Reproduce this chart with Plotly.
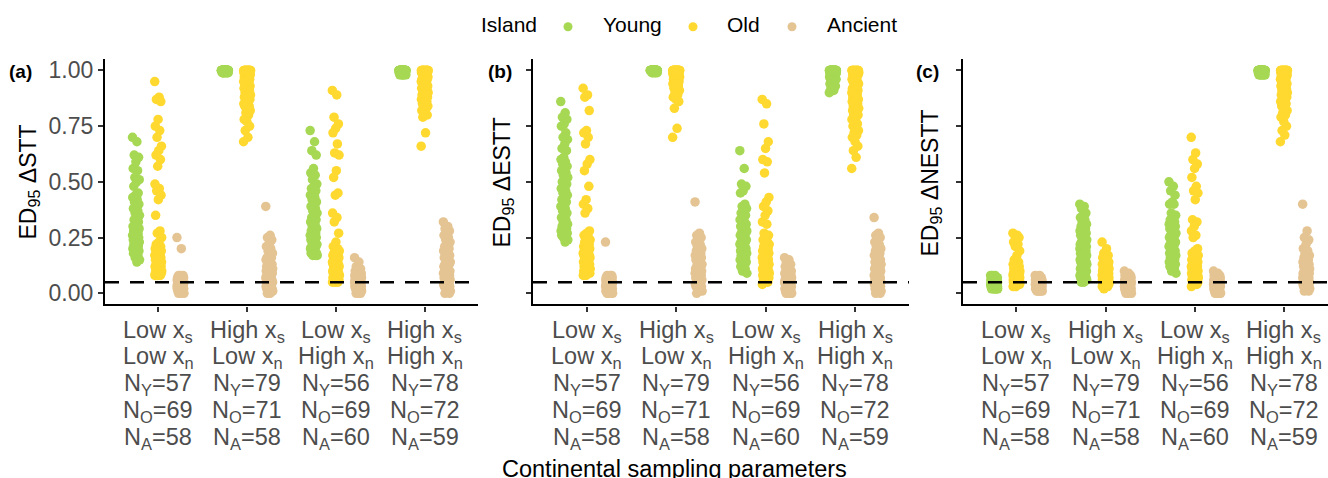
import plotly.graph_objects as go

W, H = 1328, 478

# ---- categories and labels -------------------------------------------------
islands = ["Young", "Old", "Ancient"]
island_colors = {"Young": "#A6D854", "Old": "#FFD92F", "Ancient": "#E5C494"}
xs_level = ["Low", "High", "Low", "High"]
xn_level = ["Low", "Low", "High", "High"]
panel_tags = ["(a)", "(b)", "(c)"]
metric_names = ["ΔSTT", "ΔESTT", "ΔNESTT"]
threshold = 0.05
y_ticks = [0.0, 0.25, 0.50, 0.75, 1.00]

# ---- ED95 values, one list per sampling setting ------------------------------
# panel (a): delta STT
stt_young = [
    [.70, .68, .62, .61, .59, .56, .55, .52, .51, .50, .48, .45, .44, .43, .42, .41, .40, .39, .38, .37,
     .36, .35, .34, .33, .32, .31, .30, .30, .29, .29, .28, .28, .27, .27, .26, .26, .26, .25, .25, .24,
     .24, .23, .23, .22, .22, .21, .21, .20, .20, .19, .19, .18, .18, .17, .16, .15, .14],
    [1, 1, 1, 1, 1, 1, 1, 1, 1, 1, 1, 1, 1, 1, 1, 1, 1, 1, 1, 1, 1, 1, 1, 1, 1, 1, 1, 1, 1, 1,
     1, 1, 1, 1, 1, 1, 1, 1, 1, 1, 1, 1, 1, 1, 1, 1, 1, 1, 1, 1, 1, 1, 1, 1, 1, 1, 1, 1, 1, 1,
     1, 1, 1, 1, 1, 1, 1, 1, 1, 1, .99, .99, .99, .99, .99, .99, .99, .99, .99],
    [.73, .68, .64, .62, .56, .54, .53, .51, .49, .48, .47, .46, .45, .44, .43, .42, .41, .40, .39, .38,
     .37, .36, .35, .34, .33, .33, .32, .31, .30, .29, .29, .28, .27, .27, .26, .26, .25, .25, .24, .24,
     .23, .23, .22, .22, .21, .21, .20, .20, .19, .19, .18, .18, .18, .17, .17, .17],
    [1, 1, 1, 1, 1, 1, 1, 1, 1, 1, 1, 1, 1, 1, 1, 1, 1, 1, 1, 1, 1, 1, 1, 1, 1, 1, 1, 1, 1, 1,
     1, 1, 1, 1, 1, 1, 1, 1, 1, 1, 1, 1, 1, 1, 1, 1, 1, 1, 1, 1, 1, 1, 1, 1, 1, 1, 1, 1, 1, 1,
     .99, .99, .99, .99, .99, .99, .99, .99, .99, .99, .99, .99, .98, .98, .98, .98, .98, .98],
]
stt_old = [
    [.95, .88, .87, .86, .78, .75, .73, .70, .66, .64, .62, .60, .57, .49, .47, .46, .44, .42, .35, .28,
     .27, .25, .23, .22, .21, .21, .20, .20, .19, .19, .18, .18, .18, .17, .17, .16, .16, .16, .15, .15,
     .15, .14, .14, .14, .13, .13, .13, .12, .12, .12, .12, .11, .11, .11, .11, .10, .10, .10, .10, .10,
     .09, .09, .09, .09, .09, .08, .08, .08, .08],
    [.68, .70, .73, .75, .77, .78, .80, .81, .82, .83, .84, .84, .85, .85, .86, .86, .87, .87, .88, .88,
     .89, .89, .90, .90, .91, .91, .92, .92, .93, .93, .94, .94, .95, .95, .95, .96, .96, .96, .97, .97,
     .97, .98, .98, .98, .98, .99, .99, .99, .99, .99, 1, 1, 1, 1, 1, 1, 1, 1, 1, 1,
     1, 1, 1, 1, 1, 1, 1, 1, 1, 1, 1],
    [.91, .89, .79, .76, .74, .72, .67, .63, .62, .55, .52, .45, .44, .36, .34, .32, .27, .23, .21, .20,
     .19, .19, .18, .18, .18, .17, .17, .17, .16, .16, .16, .15, .15, .15, .14, .14, .14, .13, .13, .13,
     .12, .12, .12, .11, .11, .11, .10, .10, .10, .10, .09, .09, .09, .09, .08, .08, .08, .08, .07, .07,
     .07, .07, .06, .06, .06, .06, .05, .05, .05],
    [.66, .72, .79, .80, .81, .82, .83, .84, .84, .85, .85, .86, .86, .87, .87, .88, .88, .89, .89, .90,
     .90, .90, .91, .91, .91, .92, .92, .92, .93, .93, .93, .94, .94, .94, .95, .95, .95, .96, .96, .96,
     .97, .97, .97, .98, .98, .98, .98, .99, .99, .99, .99, .99, 1, 1, 1, 1, 1, 1, 1, 1,
     1, 1, 1, 1, 1, 1, 1, 1, 1, 1, 1, 1],
]
stt_ancient = [
    [.25, .20, .08, .08, .08, .07, .07, .07, .07, .07, .07, .06, .06, .06, .06, .06, .06, .06, .05, .05,
     .05, .05, .05, .05, .05, .05, .04, .04, .04, .04, .04, .04, .04, .04, .03, .03, .03, .03, .03, .03,
     .03, .03, .02, .02, .02, .02, .02, .02, .02, .01, .01, .01, .01, .01, .01, .00, .00, .00],
    [.39, .26, .25, .24, .22, .21, .20, .19, .18, .17, .16, .16, .15, .15, .14, .14, .13, .13, .12, .12,
     .12, .11, .11, .11, .10, .10, .10, .09, .09, .09, .08, .08, .08, .07, .07, .07, .07, .06, .06, .06,
     .05, .05, .05, .05, .04, .04, .04, .03, .03, .03, .02, .02, .02, .01, .01, .01, .00, .00],
    [.16, .14, .12, .11, .11, .10, .10, .10, .09, .09, .09, .09, .08, .08, .08, .08, .08, .07, .07, .07,
     .07, .07, .07, .06, .06, .06, .06, .06, .06, .05, .05, .05, .05, .05, .05, .05, .04, .04, .04, .04,
     .04, .04, .03, .03, .03, .03, .03, .03, .02, .02, .02, .02, .02, .01, .01, .01, .01, .00, .00, .00],
    [.32, .30, .29, .28, .27, .26, .25, .24, .23, .22, .21, .20, .20, .19, .18, .18, .17, .16, .16, .15,
     .15, .14, .14, .13, .13, .12, .12, .11, .11, .10, .10, .10, .09, .09, .09, .08, .08, .08, .07, .07,
     .07, .06, .06, .06, .05, .05, .05, .04, .04, .04, .03, .03, .03, .02, .02, .01, .01, .00, .00],
]

# panel (b): delta ESTT
estt_young = [
    [.86, .81, .79, .78, .76, .75, .72, .70, .69, .67, .65, .64, .61, .60, .59, .58, .57, .56, .55, .54,
     .53, .52, .51, .50, .49, .48, .47, .46, .45, .44, .43, .42, .41, .40, .39, .38, .37, .36, .35, .34,
     .33, .32, .31, .30, .30, .29, .29, .28, .28, .27, .27, .26, .26, .25, .25, .24, .23],
    [1, 1, 1, 1, 1, 1, 1, 1, 1, 1, 1, 1, 1, 1, 1, 1, 1, 1, 1, 1, 1, 1, 1, 1, 1, 1, 1, 1, 1, 1,
     1, 1, 1, 1, 1, 1, 1, 1, 1, 1, 1, 1, 1, 1, 1, 1, 1, 1, 1, 1, 1, 1, 1, 1, 1, 1, 1, 1, 1, 1,
     1, 1, 1, 1, 1, 1, 1, 1, 1, 1, 1, 1, 1, 1, .99, .99, .99, .99, .99],
    [.64, .56, .49, .48, .46, .45, .40, .39, .38, .37, .36, .35, .34, .33, .32, .31, .31, .30, .30, .29,
     .29, .28, .28, .27, .27, .26, .26, .25, .25, .24, .24, .23, .23, .22, .22, .21, .21, .20, .20, .19,
     .19, .18, .18, .17, .17, .16, .16, .15, .15, .14, .14, .13, .12, .11, .10, .09],
    [.90, .91, .92, .93, .94, .94, .95, .95, .96, .96, .96, .97, .97, .97, .97, .98, .98, .98, .98, .98,
     .98, .99, .99, .99, .99, .99, .99, .99, .99, .99, 1, 1, 1, 1, 1, 1, 1, 1, 1, 1,
     1, 1, 1, 1, 1, 1, 1, 1, 1, 1, 1, 1, 1, 1, 1, 1, 1, 1, 1, 1,
     1, 1, 1, 1, 1, 1, 1, 1, 1, 1, 1, 1, 1, 1, 1, 1, 1, 1],
]
estt_old = [
    [.92, .89, .88, .82, .73, .72, .70, .67, .60, .58, .55, .48, .42, .40, .38, .36, .28, .27, .26, .25,
     .24, .24, .23, .23, .22, .22, .21, .21, .20, .20, .20, .19, .19, .19, .18, .18, .18, .17, .17, .17,
     .16, .16, .16, .15, .15, .15, .14, .14, .14, .13, .13, .13, .12, .12, .12, .11, .11, .11, .11, .10,
     .10, .10, .10, .09, .09, .09, .09, .08, .08],
    [.70, .74, .83, .86, .87, .88, .89, .90, .91, .92, .92, .93, .93, .94, .94, .95, .95, .95, .96, .96,
     .96, .97, .97, .97, .97, .98, .98, .98, .98, .98, .99, .99, .99, .99, .99, .99, 1, 1, 1, 1,
     1, 1, 1, 1, 1, 1, 1, 1, 1, 1, 1, 1, 1, 1, 1, 1, 1, 1, 1, 1,
     1, 1, 1, 1, 1, 1, 1, 1, 1, 1, 1],
    [.87, .85, .76, .68, .65, .60, .59, .54, .43, .41, .39, .37, .35, .32, .31, .27, .26, .25, .24, .23,
     .22, .22, .21, .21, .20, .20, .19, .19, .18, .18, .17, .17, .16, .16, .16, .15, .15, .15, .14, .14,
     .14, .13, .13, .13, .12, .12, .12, .11, .11, .11, .10, .10, .10, .10, .09, .09, .09, .09, .08, .08,
     .08, .07, .07, .07, .06, .06, .05, .05, .04],
    [.56, .61, .64, .66, .68, .70, .71, .72, .73, .74, .75, .76, .77, .78, .79, .80, .80, .81, .82, .82,
     .83, .83, .84, .84, .85, .85, .86, .86, .87, .87, .88, .88, .89, .89, .90, .90, .91, .91, .92, .92,
     .93, .93, .94, .94, .95, .95, .96, .96, .97, .97, .98, .98, .98, .99, .99, .99, .99, 1, 1, 1,
     1, 1, 1, 1, 1, 1, 1, 1, 1, 1, 1, 1],
]
estt_ancient = [
    [.23, .08, .08, .08, .07, .07, .07, .07, .07, .06, .06, .06, .06, .06, .06, .06, .05, .05, .05, .05,
     .05, .05, .05, .05, .04, .04, .04, .04, .04, .04, .04, .04, .03, .03, .03, .03, .03, .03, .03, .03,
     .02, .02, .02, .02, .02, .02, .02, .01, .01, .01, .01, .01, .01, .00, .00, .00, .00, .00],
    [.41, .27, .26, .25, .24, .23, .22, .21, .20, .20, .19, .18, .18, .17, .17, .16, .16, .15, .15, .14,
     .14, .13, .13, .12, .12, .12, .11, .11, .11, .10, .10, .10, .09, .09, .09, .08, .08, .08, .07, .07,
     .07, .06, .06, .06, .05, .05, .05, .04, .04, .04, .03, .03, .03, .02, .02, .01, .01, .00],
    [.16, .15, .14, .13, .12, .12, .11, .11, .10, .10, .10, .09, .09, .09, .09, .08, .08, .08, .08, .08,
     .07, .07, .07, .07, .07, .06, .06, .06, .06, .06, .05, .05, .05, .05, .05, .04, .04, .04, .04, .04,
     .03, .03, .03, .03, .03, .02, .02, .02, .02, .02, .01, .01, .01, .01, .00, .00, .00, .00, .00, .00],
    [.34, .27, .26, .25, .24, .23, .22, .21, .20, .19, .19, .18, .17, .17, .16, .16, .15, .15, .14, .14,
     .13, .13, .12, .12, .11, .11, .11, .10, .10, .10, .09, .09, .09, .08, .08, .08, .07, .07, .07, .06,
     .06, .06, .05, .05, .05, .04, .04, .04, .03, .03, .03, .02, .02, .02, .01, .01, .01, .00, .00],
]

# panel (c): delta NESTT
nestt_young = [
    [.08, .08, .08, .07, .07, .07, .07, .07, .07, .07, .06, .06, .06, .06, .06, .06, .06, .06, .06, .06,
     .05, .05, .05, .05, .05, .05, .05, .05, .05, .05, .05, .04, .04, .04, .04, .04, .04, .04, .04, .04,
     .04, .03, .03, .03, .03, .03, .03, .03, .03, .03, .02, .02, .02, .02, .02, .02, .02],
    [.40, .39, .38, .36, .35, .34, .33, .32, .31, .30, .30, .29, .29, .28, .28, .27, .27, .26, .26, .25,
     .25, .24, .24, .23, .23, .23, .22, .22, .22, .21, .21, .21, .20, .20, .20, .19, .19, .19, .18, .18,
     .18, .17, .17, .17, .16, .16, .16, .15, .15, .15, .14, .14, .14, .13, .13, .13, .12, .12, .12, .11,
     .11, .11, .10, .10, .10, .09, .09, .09, .08, .08, .08, .07, .07, .07, .06, .06, .06, .05, .05],
    [.50, .48, .46, .44, .41, .40, .40, .36, .35, .34, .33, .32, .32, .31, .31, .30, .30, .29, .29, .28,
     .28, .27, .27, .26, .26, .25, .25, .24, .24, .23, .23, .22, .22, .21, .21, .20, .20, .19, .19, .18,
     .18, .17, .17, .16, .16, .15, .15, .14, .14, .13, .13, .12, .12, .11, .10, .09],
    [1, 1, 1, 1, 1, 1, 1, 1, 1, 1, 1, 1, 1, 1, 1, 1, 1, 1, 1, 1, 1, 1, 1, 1, 1, 1, 1, 1, 1, 1,
     1, 1, 1, 1, 1, 1, 1, 1, 1, 1, 1, 1, 1, 1, 1, 1, 1, 1, 1, 1, 1, 1, 1, 1, 1, 1, 1, 1, 1, 1,
     .99, .99, .99, .99, .99, .99, .99, .99, .99, .99, .98, .98, .98, .98, .98, .98, .98, .98],
]
nestt_old = [
    [.27, .26, .26, .25, .24, .23, .22, .21, .19, .17, .15, .14, .13, .13, .12, .12, .12, .11, .11, .11,
     .11, .10, .10, .10, .10, .10, .09, .09, .09, .09, .09, .09, .08, .08, .08, .08, .08, .08, .08, .07,
     .07, .07, .07, .07, .07, .07, .06, .06, .06, .06, .06, .06, .06, .06, .05, .05, .05, .05, .05, .05,
     .05, .05, .04, .04, .04, .04, .04, .03, .03],
    [.23, .20, .18, .17, .16, .16, .15, .15, .14, .14, .14, .13, .13, .13, .12, .12, .12, .12, .11, .11,
     .11, .11, .10, .10, .10, .10, .10, .09, .09, .09, .09, .09, .09, .08, .08, .08, .08, .08, .08, .07,
     .07, .07, .07, .07, .07, .07, .06, .06, .06, .06, .06, .06, .06, .05, .05, .05, .05, .05, .05, .04,
     .04, .04, .04, .04, .04, .03, .03, .03, .03, .03, .02],
    [.70, .63, .60, .58, .56, .52, .48, .46, .45, .42, .33, .32, .30, .28, .26, .25, .20, .19, .18, .18,
     .17, .17, .16, .16, .16, .15, .15, .15, .14, .14, .14, .13, .13, .13, .12, .12, .12, .12, .11, .11,
     .11, .11, .10, .10, .10, .10, .09, .09, .09, .09, .08, .08, .08, .08, .07, .07, .07, .07, .06, .06,
     .06, .06, .05, .05, .05, .04, .04, .04, .03],
    [.68, .71, .73, .75, .77, .79, .80, .81, .82, .83, .84, .85, .86, .86, .87, .87, .88, .88, .89, .89,
     .90, .90, .91, .91, .92, .92, .93, .93, .94, .94, .94, .95, .95, .95, .96, .96, .96, .97, .97, .97,
     .97, .98, .98, .98, .98, .99, .99, .99, .99, .99, 1, 1, 1, 1, 1, 1, 1, 1, 1, 1,
     1, 1, 1, 1, 1, 1, 1, 1, 1, 1, 1, 1],
]
nestt_ancient = [
    [.08, .08, .07, .07, .07, .07, .07, .06, .06, .06, .06, .06, .06, .06, .06, .05, .05, .05, .05, .05,
     .05, .05, .05, .05, .05, .05, .04, .04, .04, .04, .04, .04, .04, .04, .04, .04, .04, .03, .03, .03,
     .03, .03, .03, .03, .03, .03, .02, .02, .02, .02, .02, .02, .02, .01, .01, .01, .01, .01],
    [.10, .09, .09, .08, .08, .08, .07, .07, .07, .07, .06, .06, .06, .06, .06, .06, .05, .05, .05, .05,
     .05, .05, .05, .05, .04, .04, .04, .04, .04, .04, .04, .04, .04, .03, .03, .03, .03, .03, .03, .03,
     .03, .02, .02, .02, .02, .02, .02, .02, .01, .01, .01, .01, .01, .01, .00, .00, .00, .00],
    [.10, .09, .09, .08, .08, .08, .08, .07, .07, .07, .07, .07, .06, .06, .06, .06, .06, .06, .06, .05,
     .05, .05, .05, .05, .05, .05, .04, .04, .04, .04, .04, .04, .04, .04, .04, .03, .03, .03, .03, .03,
     .03, .03, .03, .02, .02, .02, .02, .02, .02, .02, .01, .01, .01, .01, .01, .00, .00, .00, .00, .00],
    [.40, .28, .25, .24, .22, .20, .19, .18, .17, .16, .16, .15, .15, .14, .14, .13, .13, .12, .12, .12,
     .11, .11, .11, .10, .10, .10, .09, .09, .09, .09, .08, .08, .08, .08, .07, .07, .07, .07, .06, .06,
     .06, .06, .05, .05, .05, .05, .04, .04, .04, .04, .03, .03, .03, .03, .02, .02, .02, .01, .01],
]

panels = [
    {"Young": stt_young, "Old": stt_old, "Ancient": stt_ancient},
    {"Young": estt_young, "Old": estt_old, "Ancient": estt_ancient},
    {"Young": nestt_young, "Old": nestt_old, "Ancient": nestt_ancient},
]

# ---- layout geometry (pixels) ---------------------------------------------
FONT = "Liberation Sans, Arial, Helvetica, sans-serif"
TICK_GREY = "#4D4D4D"
panel_px = [(105, 478), (533, 909), (963, 1328)]
x_ranges = [[0.4, 4.6], [0.4, 4.6], [0.4, 4.494]]
y_px = (57.75, 305.0)  # top, bottom
y_dom = [(H - y_px[1]) / H, (H - y_px[0]) / H]
dodge = {"Young": -0.25, "Old": 0.0, "Ancient": 0.25}
jitter_half = 0.04
label_rows_px = [332, 359, 386, 413, 440]  # vertical centres of the stacked x labels


def spread(n):
    """Deterministic horizontal spread inside a dodge slot (golden-ratio sequence)."""
    return [((i * 0.6180339887) % 1.0 - 0.5) * 2 * jitter_half for i in range(n)]


def label_rows(panel, g):
    return [
        f"{xs_level[g]} x<sub>s</sub>",
        f"{xn_level[g]} x<sub>n</sub>",
        f"N<sub>Y</sub>={len(panel['Young'][g])}",
        f"N<sub>O</sub>={len(panel['Old'][g])}",
        f"N<sub>A</sub>={len(panel['Ancient'][g])}",
    ]


fig = go.Figure()

for p, panel in enumerate(panels):
    suffix = "" if p == 0 else str(p + 1)
    for isl in islands:
        xs, ys = [], []
        for g in range(4):
            vals = panel[isl][g]
            off = spread(len(vals))
            xs += [g + 1 + dodge[isl] + o for o in off]
            ys += vals
        fig.add_trace(go.Scatter(
            x=xs, y=ys, mode="markers",
            marker=dict(color=island_colors[isl], size=9.5, line=dict(width=0)),
            xaxis="x" + suffix, yaxis="y" + suffix,
            showlegend=False, hoverinfo="skip",
        ))

    x0, x1 = panel_px[p]
    fig.update_layout(**{
        "xaxis" + suffix: dict(
            domain=[x0 / W, x1 / W], range=x_ranges[p], anchor="y" + suffix,
            tickmode="array", tickvals=[1, 2, 3, 4], showticklabels=False,
            showline=True, linecolor="black", linewidth=2.2,
            ticks="outside", ticklen=5, tickwidth=2, tickcolor="#333333",
            showgrid=False, zeroline=False, fixedrange=True,
        ),
        "yaxis" + suffix: dict(
            domain=y_dom, range=[-0.05, 1.05], anchor="x" + suffix,
            tickmode="array", tickvals=y_ticks,
            ticktext=[f"{v:.2f}" for v in y_ticks],
            showticklabels=(p == 0),
            showline=True, linecolor="black", linewidth=2.2,
            ticks="outside", ticklen=5, tickwidth=2, tickcolor="#333333",
            tickfont=dict(family=FONT, size=23, color=TICK_GREY),
            showgrid=False, zeroline=False, fixedrange=True,
        ),
    })

    # stacked category labels under each tick
    for g in range(4):
        for row, txt in enumerate(label_rows(panel, g)):
            fig.add_annotation(
                x=g + 1, y=1 - label_rows_px[row] / H, xref="x" + suffix, yref="paper",
                text=txt, showarrow=False, xanchor="center", yanchor="middle",
                font=dict(family=FONT, size=23.5, color=TICK_GREY),
            )

    # threshold line
    fig.add_shape(
        type="line", xref=f"x{suffix} domain", yref="y" + suffix,
        x0=0, x1=1, y0=threshold, y1=threshold,
        line=dict(color="black", width=2.5, dash="14px,11px"), layer="above",
    )

    # y axis title and panel tag
    title_x = [29, 503, 931][p]
    fig.add_annotation(
        x=title_x / W, y=1 - 182 / H, xref="paper", yref="paper",
        text=f"ED<sub>95</sub> {metric_names[p]}", textangle=-90, showarrow=False,
        font=dict(family=FONT, size=23, color="black"), xanchor="center", yanchor="middle",
    )
    tag_x = [7, 486, 914][p]
    fig.add_annotation(
        x=tag_x / W, y=1 - 70 / H, xref="paper", yref="paper",
        text=f"<b>{panel_tags[p]}</b>", showarrow=False,
        font=dict(family=FONT, size=19, color="black"), xanchor="left", yanchor="middle",
    )

# shared x axis title
fig.add_annotation(
    x=674 / W, y=1 - 471 / H, xref="paper", yref="paper",
    text="Continental sampling parameters", showarrow=False,
    font=dict(family=FONT, size=23.5, color="black"), xanchor="center", yanchor="middle",
)

# legend row along the top
legend_y = 1 - 23 / H
fig.add_annotation(
    x=479 / W, y=legend_y, xref="paper", yref="paper", text="Island", showarrow=False,
    font=dict(family=FONT, size=21, color="black"), xanchor="left", yanchor="middle",
)
legend_pos = {"Young": (568, 601), "Old": (693, 725), "Ancient": (792, 825)}
for isl in islands:
    dot_x, txt_x = legend_pos[isl]
    fig.add_shape(
        type="circle", xref="paper", yref="paper",
        xsizemode="pixel", ysizemode="pixel",
        xanchor=dot_x / W, yanchor=1 - 25 / H,
        x0=-4.5, x1=4.5, y0=-4.5, y1=4.5,
        fillcolor=island_colors[isl], line=dict(width=0),
    )
    fig.add_annotation(
        x=txt_x / W, y=legend_y, xref="paper", yref="paper", text=isl, showarrow=False,
        font=dict(family=FONT, size=21, color="black"), xanchor="left", yanchor="middle",
    )

fig.update_layout(
    width=W, height=H,
    margin=dict(l=0, r=0, t=0, b=0),
    paper_bgcolor="white", plot_bgcolor="white",
    showlegend=False,
)

fig.write_html("out.html")
